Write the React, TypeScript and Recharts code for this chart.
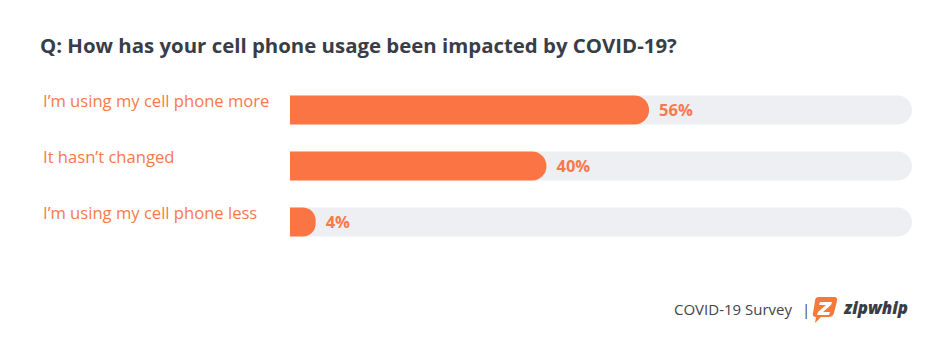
import React from 'react';
import { BarChart, Bar, XAxis, YAxis, LabelList } from 'recharts';

const categories = ["I’m using my cell phone more", "It hasn’t changed", "I’m using my cell phone less"];
const values = [56, 40, 4];
const title = 'Q: How has your cell phone usage been impacted by COVID-19?';
const footerText = 'COVID-19 Survey';

const data = categories.map((name, i) => ({ name, value: values[i] }));

const ORANGE = '#fb7443';
const LABEL_ORANGE = '#f7794b';
const TRACK = '#eeeff3';
const FONT = '"Open Sans", Lato, sans-serif';

const CategoryTick = (props: any) => {
  const { y, payload } = props;
  return (
    <text x={43} y={y - 3} textAnchor="start" fill={LABEL_ORANGE} fontSize={16.6} fontFamily={FONT}>
      {payload.value}
    </text>
  );
};

export default function App() {
  return (
    <div style={{ position: 'absolute', left: 0, top: 0, width: 940, height: 342, background: '#fff', fontFamily: FONT }}>
      <div style={{ position: 'absolute', left: 40, top: 31, fontSize: 20.4, fontWeight: 700, color: '#383d48', whiteSpace: 'nowrap' }}>
        {title}
      </div>
      <BarChart
        width={940}
        height={342}
        data={data}
        layout="vertical"
        margin={{ top: 81.5, right: 28, bottom: 92.5, left: 43 }}
      >
        <XAxis type="number" domain={[0, 97]} hide />
        <YAxis
          type="category"
          dataKey="name"
          width={247}
          axisLine={false}
          tickLine={false}
          tick={<CategoryTick />}
        />
        <Bar
          dataKey="value"
          fill={ORANGE}
          barSize={29}
          radius={[0, 15, 15, 0]}
          background={{ fill: TRACK, radius: [0, 15, 15, 0] } as any}
          isAnimationActive={false}
        >
          <LabelList
            dataKey="value"
            position="right"
            offset={10}
            formatter={(v: any) => `${v}%`}
            fill={LABEL_ORANGE}
            fontSize={16.5}
            fontWeight={700}
            fontFamily={FONT}
          />
        </Bar>
      </BarChart>
      <div style={{ position: 'absolute', left: 674, top: 299, fontSize: 15, color: '#3f434c', whiteSpace: 'nowrap' }}>
        {footerText}
      </div>
      <div style={{ position: 'absolute', left: 802, top: 299, fontSize: 15, color: '#3f434c' }}>|</div>
      <svg style={{ position: 'absolute', left: 810, top: 294 }} width={104} height={30}>
        <path d="M5 3 H24 Q28 3 27 7 L24 19 Q23 23 19 23 H11 L5 29 L6 23 Q2 23 3 19 L5 7 Q5 3 9 3 Z" fill="#f47a3c" />
        <path d="M10 8 H22 L21 11 L13 18 H20 L19 21 H7 L8 18 L16 11 H9 Z" fill="#fff" />
        <text x={34} y={20} fontSize={17} fontWeight={900} fontStyle="italic" fill="#3a3d45" fontFamily={FONT} textLength={64} lengthAdjust="spacingAndGlyphs">zipwhip</text>
      </svg>
    </div>
  );
}
